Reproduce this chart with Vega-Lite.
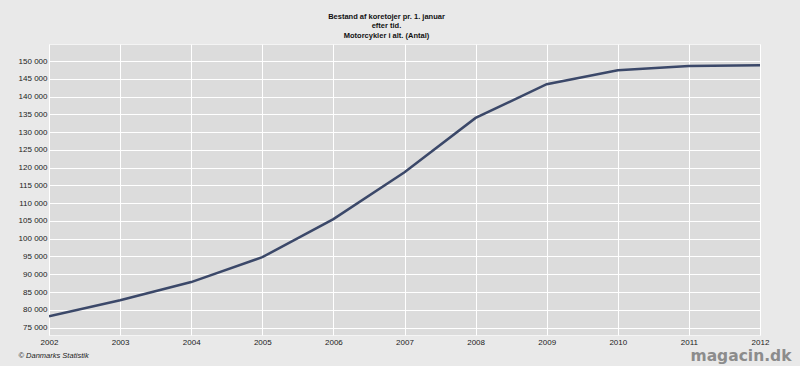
{
  "$schema": "https://vega.github.io/schema/vega-lite/v6.json",
  "autosize": {"type": "none"},
  "width": 711,
  "height": 291,
  "padding": {"left": 49, "top": 44, "right": 40, "bottom": 31},
  "background": "#e9e9e9",
  "title": {
    "text": ["Bestand af koretojer pr. 1. januar", "efter tid.", "Motorcykler i alt. (Antal)"],
    "fontSize": 7.5,
    "fontWeight": "bold",
    "font": "Liberation Sans",
    "color": "#111111",
    "anchor": "middle",
    "dx": -18,
    "offset": 5,
    "lineHeight": 9.5
  },
  "data": {
    "values": [
      {"year": 2002, "count": 78200},
      {"year": 2003, "count": 82700},
      {"year": 2004, "count": 87800},
      {"year": 2005, "count": 94800},
      {"year": 2006, "count": 105500},
      {"year": 2007, "count": 118700},
      {"year": 2008, "count": 134000},
      {"year": 2009, "count": 143500},
      {"year": 2010, "count": 147400},
      {"year": 2011, "count": 148600},
      {"year": 2012, "count": 148800}
    ]
  },
  "mark": {"type": "line", "color": "#3b4869", "strokeWidth": 2.5, "clip": true},
  "encoding": {
    "x": {
      "field": "year",
      "type": "quantitative",
      "scale": {"domain": [2002, 2012], "nice": false, "zero": false},
      "axis": {
        "values": [2002, 2003, 2004, 2005, 2006, 2007, 2008, 2009, 2010, 2011, 2012],
        "format": "d",
        "title": "© Danmarks Statistik",
        "titleFont": "Liberation Sans",
        "titleFontStyle": "italic",
        "titleFontWeight": "normal",
        "titleFontSize": 7.5,
        "titleColor": "#222222",
        "titleAlign": "left",
        "titleBaseline": "middle",
        "titleX": -31,
        "titleY": 20,
        "labelPadding": 3,
        "labelFlush": false
      }
    },
    "y": {
      "field": "count",
      "type": "quantitative",
      "scale": {"domain": [72900, 154800], "nice": false, "zero": false},
      "axis": {
        "values": [75000, 80000, 85000, 90000, 95000, 100000, 105000, 110000, 115000, 120000, 125000, 130000, 135000, 140000, 145000, 150000],
        "labelExpr": "replace(format(datum.value, ','), ',', ' ')",
        "labelPadding": 2,
        "title": "magacin.dk",
        "titleAngle": 0,
        "titleFont": "DejaVu Sans",
        "titleFontWeight": "bold",
        "titleFontSize": 15.5,
        "titleColor": "#8c8c8c",
        "titleAlign": "left",
        "titleBaseline": "middle",
        "titleX": 641,
        "titleY": 311
      }
    }
  },
  "config": {
    "view": {"fill": "#dcdcdc", "stroke": "#f4f4f4", "strokeWidth": 1},
    "axis": {
      "grid": true,
      "gridColor": "#ffffff",
      "gridWidth": 1,
      "gridOpacity": 1,
      "domain": false,
      "ticks": false,
      "labelFont": "Liberation Sans",
      "labelFontSize": 8,
      "labelColor": "#222222"
    }
  }
}
